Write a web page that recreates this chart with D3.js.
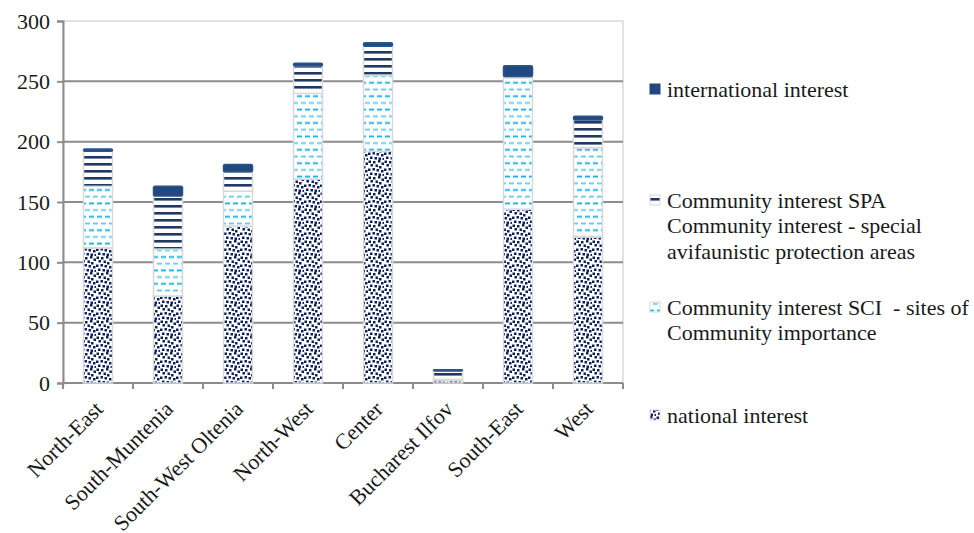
<!DOCTYPE html>
<html>
<head>
<meta charset="utf-8">
<script src="https://cdn.jsdelivr.net/npm/d3@7"></script>
</head>
<body style="margin:0">
<svg id="chart" width="974" height="533"></svg>
<script>
// Protected areas by development region
const categories = ["North-East", "South-Muntenia", "South-West Oltenia", "North-West",
                    "Center", "Bucharest Ilfov", "South-East", "West"];
const national      = [112, 72, 130, 169, 192, 2, 144, 121];
const sci           = [51, 39, 29, 71, 63, 1, 109, 74];
const spa           = [29, 44, 16, 23, 24, 7, 1, 23];
const international = [2, 8, 6, 2, 3, 1, 9, 3];
const yTicks = [0, 50, 100, 150, 200, 250, 300];

const seriesKeys = ["national", "sci", "spa", "international"];
const legendItems = [
  { key: "international", lines: ["international interest"] },
  { key: "spa", lines: ["Community interest SPA", "Community interest - special", "avifaunistic protection areas"] },
  { key: "sci", lines: ["Community interest SCI  - sites of", "Community importance"] },
  { key: "national", lines: ["national interest"] }
];

const serifFace = "Liberation Serif";
const FONT = `"${serifFace}", monospace`;
const FS = 22;
const TXT = "#1a1a1a";

// apply the label typeface to a text selection
function typeset(sel) {
  sel.style("font-family", () => FONT).attr("font-size", FS).attr("fill", TXT);
}

const table = categories.map((c, i) => ({
  region: c,
  national: national[i],
  sci: sci[i],
  spa: spa[i],
  international: international[i]
}));

const svg = d3.select("#chart");
const margin = { left: 63, right: 351, top: 21, bottom: 150 };
const W = 974, H = 533;
const xBand = d3.scaleBand().domain(categories).range([margin.left, W - margin.right]);
const y = d3.scaleLinear().domain([0, 300]).range([H - margin.bottom, margin.top]);

// ---- fill patterns ----
const defs = svg.append("defs");

// confetti squares for national interest
const dots = defs.append("pattern").attr("id", "pat-national")
  .attr("patternUnits", "userSpaceOnUse").attr("width", 16).attr("height", 16);
dots.append("rect").attr("width", 16).attr("height", 16).attr("fill", "#fff");
[[0.5,0.5],[5,1],[10,0],[13.5,2.5],[2.5,4],[7.5,4.5],[11,6],[0,8.5],[4.5,8],[8.5,9],
 [13,10],[2,12.5],[6.5,13],[10.5,13.5],[14.5,14]].forEach(([px, py]) => {
  dots.append("rect").attr("x", px).attr("y", py).attr("width", 2.5).attr("height", 2.5).attr("fill", "#0e1f5e");
});

// light blue dashes for SCI
const dash = defs.append("pattern").attr("id", "pat-sci")
  .attr("patternUnits", "userSpaceOnUse").attr("width", 16).attr("height", 13.4);
dash.append("rect").attr("width", 16).attr("height", 13.4).attr("fill", "#fff");
[[1, 1.5, "#0bb1ef"], [9, 1.5, "#0bb1ef"], [5, 8.2, "#62cbf0"], [13, 8.2, "#62cbf0"], [-3, 8.2, "#62cbf0"]]
  .forEach(([px, py, c]) => {
    dash.append("rect").attr("x", px).attr("y", py).attr("width", 5).attr("height", 1.8).attr("fill", c);
  });

// dark horizontal stripes for SPA
const stripes = defs.append("pattern").attr("id", "pat-spa")
  .attr("patternUnits", "userSpaceOnUse").attr("width", 8).attr("height", 7);
stripes.append("rect").attr("width", 8).attr("height", 7).attr("fill", "#fff");
stripes.append("rect").attr("x", 0).attr("y", 2).attr("width", 8).attr("height", 2.6).attr("fill", "#1f3864");

const fills = {
  national: "url(#pat-national)",
  sci: "url(#pat-sci)",
  spa: "url(#pat-spa)",
  international: "#21497f"
};

// ---- plot frame and gridlines ----
const plotRight = W - margin.right;
svg.append("rect")
  .attr("x", margin.left).attr("y", margin.top)
  .attr("width", plotRight - margin.left).attr("height", y(0) - margin.top)
  .attr("fill", "none").attr("stroke", "#d9d9d9").attr("stroke-width", 1.5);

svg.append("g").selectAll("line")
  .data(yTicks.filter(t => t > 0 && t < 300))
  .join("line")
  .attr("x1", margin.left).attr("x2", plotRight)
  .attr("y1", d => y(d)).attr("y2", d => y(d))
  .attr("stroke", "#8c8c8c").attr("stroke-width", 2);

// ---- y axis ----
const yAxis = svg.append("g")
  .attr("transform", `translate(${margin.left},0)`)
  .call(d3.axisLeft(y).tickValues(yTicks).tickSize(6).tickPadding(7));
yAxis.attr("font-family", null).attr("font-size", null);
yAxis.select(".domain").attr("stroke", "#8c8c8c").attr("stroke-width", 2);
yAxis.selectAll(".tick line").attr("stroke", "#8c8c8c").attr("stroke-width", 2);
yAxis.selectAll(".tick text").call(typeset);

// ---- x axis: band boundary ticks ----
const xg = svg.append("g");
xg.append("line")
  .attr("x1", margin.left).attr("x2", plotRight)
  .attr("y1", y(0)).attr("y2", y(0))
  .attr("stroke", "#8c8c8c").attr("stroke-width", 2);
const bounds = categories.map(c => xBand(c)).concat([plotRight]);
xg.selectAll("line.tk").data(bounds).join("line").attr("class", "tk")
  .attr("x1", d => d).attr("x2", d => d)
  .attr("y1", y(0)).attr("y2", y(0) + 6)
  .attr("stroke", "#8c8c8c").attr("stroke-width", 2);
xg.selectAll("text").data(categories).join("text")
  .attr("transform", d => `translate(${xBand(d) + xBand.bandwidth() / 2 + 1},${y(0) + 22}) rotate(-45)`)
  .attr("text-anchor", "end")
  .attr("dy", "0.35em")
  .call(typeset)
  .text(d => d);

// ---- stacked bars ----
const stack = d3.stack().keys(seriesKeys)(table);
const barW = 29;
const bars = svg.append("g");
stack.forEach(layer => {
  bars.append("g").selectAll("rect")
    .data(layer.filter(d => d[1] > d[0]))
    .join("rect")
    .attr("x", d => xBand(d.data.region) + xBand.bandwidth() / 2 - barW / 2)
    .attr("y", d => y(d[1]))
    .attr("width", barW)
    .attr("height", d => y(d[0]) - y(d[1]))
    .attr("fill", fills[layer.key])
    .attr("stroke", layer.key === "international" ? "#2a558c" : "#d9d9d9")
    .attr("stroke-width", 1.5)
    .attr("rx", layer.key === "international" ? 1.5 : 0);
});

// ---- legend ----
const legend = svg.append("g");
const legendTop = { international: 89, spa: 200, sci: 307, national: 415 };
legendItems.forEach(item => {
  const cy = legendTop[item.key];
  legend.append("rect")
    .attr("x", 650).attr("y", cy - 5).attr("width", 10).attr("height", 10)
    .attr("fill", fills[item.key])
    .attr("stroke", item.key === "international" ? "#21497f" : "#d9d9d9")
    .attr("stroke-width", 1);
  item.lines.forEach((ln, k) => {
    legend.append("text")
      .attr("x", 667).attr("y", cy + k * 25.5)
      .attr("dy", "0.35em")
      .style("white-space", "pre")
      .call(typeset)
      .text(ln);
  });
});
</script>
</body>
</html>
